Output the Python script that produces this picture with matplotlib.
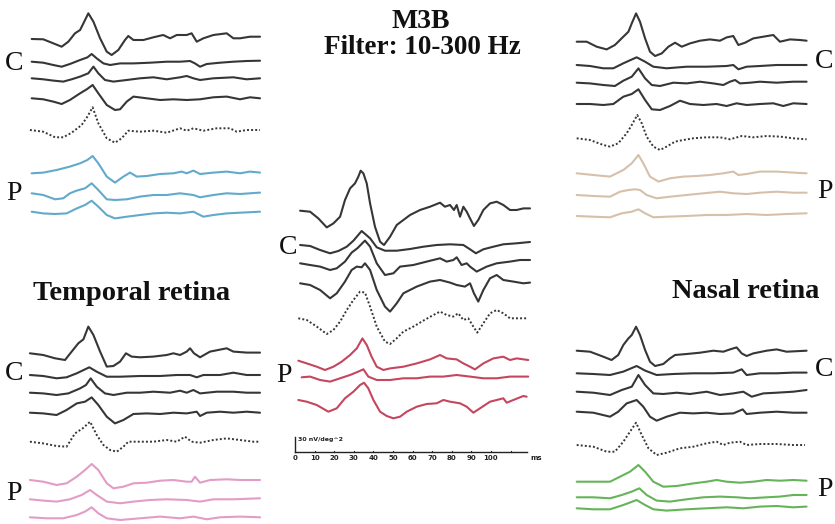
import matplotlib.pyplot as plt
import numpy as np

# waveforms: (time [ms], amplitude) pairs
# amplitude unit: 1 = 2 nV/deg^2 (scale bar 30 nV/deg^2 = 15 units)

top_left = [
    [(2.9, 0), (8.8, -0.3), (13.9, -4.3), (18.2, -7.7), (21.6, -2.7), (25, 5.7), (27.6, 9), (29.3, 15.7),
     (31.8, 25.7), (34.4, 17.3), (37.8, 0.7), (41.2, -12.7), (43.7, -16), (47.1, -11), (50.5, -1), (52.2, 3),
     (54.8, -1), (59.9, -1), (65, 1.7), (70, 4), (73.5, 0.7), (76.9, 4), (82, 4), (84.5, 5.7), (87.1, -2.7),
     (90.5, 0.7), (95.6, 4), (102.4, 5.7), (105.8, 0.7), (109.2, 0.7), (114.3, 2.3), (119.4, 2.3)],
    [(2.9, 0), (8.8, -1), (13.9, -3.3), (18.2, -5), (22.4, -2.3), (27.6, 1.7), (31.3, 4.3), (33.5, 7.7),
     (36.1, 3.3), (39.5, -1.7), (42.9, -3.3), (48, -1.7), (54.8, -1.7), (63.3, -1), (71.8, 0), (78.6, 0),
     (83.7, 0.7), (86.2, -1.7), (88.8, -5), (92.2, -2.3), (99, -1), (105.8, 0), (112.6, 0.7), (119.4, 1)],
    [(2.9, 0), (8.8, -1), (13.9, -2.3), (19, -3.3), (23.3, -1), (27.6, 1.7), (31.8, 5), (34.4, 11.7),
     (36.9, 5), (40.3, -1.7), (44.6, -3.3), (51.4, -1.7), (58.2, 0), (65, 1), (71.8, -1), (78.6, 1),
     (82, 2.3), (85.4, 0), (88.8, -1.7), (95.6, 0), (105.8, 1), (112.6, -1), (119.4, 0)],
    [(2.9, 0), (8.8, -1), (13.9, -3.3), (18.2, -5.7), (22.4, -1.7), (27.6, 5), (31, 9), (34, 13.3),
     (36.9, 5), (41.2, -6.7), (45.4, -11.7), (48, -11), (51.4, -3.3), (54.8, 1.7), (61.6, 0), (68.4, -1.7),
     (75.2, -1), (82, -1.7), (88.8, -1), (95.6, 1), (102.4, 1.7), (109.2, -1), (114.3, 1), (119.4, 0)],
    [(2, 0), (8.8, -1.7), (14.8, -7.3), (19, -7.3), (23.3, -2.7), (28.4, 5), (31.3, 13.3), (34, 22.7),
     (36.9, 6.7), (41.2, -8.3), (45.4, -12.7), (48.8, -8.3), (52.2, -0.7), (58.2, -1.7), (65, -0.7),
     (71.8, -2.7), (78.6, 1.7), (82, -0.7), (85.4, 1.7), (90.5, -0.7), (97.3, 1.7), (104.1, 1.7),
     (107.5, -1.7), (112.6, 0), (119.4, 0)],
    [(2.9, 0), (8.8, 0.7), (15.6, 3.3), (22.4, 6.7), (27.6, 10), (31.3, 13.3), (34, 17.3), (36.9, 10),
     (41.2, -3.3), (45.4, -9.3), (49.7, -3.3), (53.1, 0.7), (56.5, -3.3), (61.6, -2.7), (68.4, -0.7),
     (75.2, 0), (79.4, 1.7), (82, 0), (85.4, 2.7), (88.8, -0.7), (95.6, 0.7), (102.4, 1.7), (109.2, 0),
     (114.3, 1.7), (119.4, 0.7)],
    [(2.9, 0), (8.8, -1.7), (14.8, -6), (19, -5), (22.4, 0), (25.9, 2.7), (30.1, 5), (33.5, 10),
     (36.9, 3.3), (41.2, -6), (45.4, -6.7), (51.4, -6), (58.2, -3.3), (65, -1.7), (71.8, -1.7), (78.6, 0),
     (85.4, -1.7), (88.8, -4), (95.6, -1.7), (102.4, 0), (109.2, -0.7), (119.4, 0.7)],
    [(2.9, 0), (8.8, -1.7), (14.8, -2.3), (20.7, -1.7), (25.9, 3.3), (30.1, 6.7), (33.5, 11), (36.9, 5),
     (41.2, -3.3), (45.4, -6.7), (51.4, -5), (58.2, -3.3), (65, -1.7), (71.8, -1), (78.6, -1.7),
     (85.4, 0), (90.5, -5), (95.6, -3.3), (102.4, -1.7), (109.2, -1), (119.4, 0)],
]

top_right = [
    [(2.9, 0), (8, 0), (13.1, -5), (18.2, -7.7), (22.4, -3.3), (26.7, 5), (29.3, 10), (31, 18.3),
     (33.2, 28.3), (35.2, 20), (37.8, 3.3), (40.3, -10), (42.9, -14.3), (46.3, -11.7), (49.7, -5),
     (53.1, -1), (56.5, -5), (60.7, -1.7), (65.8, 1), (70.9, 2.3), (76, 1), (79.4, 4.3), (82.8, 5.7),
     (85.4, -3.3), (88.8, -1), (93, 3.3), (98.1, 5), (103.2, 6.7), (106.6, 0), (111.7, 2.3),
     (116.8, 1.7), (120.2, 1)],
    [(2.9, 0), (9.7, -1), (16.5, -3.3), (21.6, -3.3), (26.7, 1.7), (33.5, 7.7), (37.8, 3.3), (42, -1.7),
     (48.8, -3.3), (59, -1.7), (69.2, -1.7), (79.4, -1), (82.8, 0), (85.4, -4.3), (89.6, -1.7),
     (96.4, -1), (104.9, 0), (113.4, 0), (120.2, 0)],
    [(2.9, 0), (9.7, -0.7), (16.5, -2.3), (22.4, -3.3), (26.7, 2), (31, 6), (34.4, 14.3), (37.8, 4.3),
     (41.2, -2.3), (45.4, -3.3), (52.2, 0), (59, -0.7), (65.8, 1), (72.6, -0.7), (77.7, -2.3), (81.1, 1),
     (83.7, 2.7), (86.2, -0.7), (91.3, 0), (96.4, 1), (104.9, 0), (113.4, 1), (120.2, 1)],
    [(2.9, 0), (9.7, 0), (16.5, -1), (21.6, 0), (26.7, 7.3), (31, 10), (34.4, 14.7), (37.8, 4),
     (41.2, -5.3), (45.4, -6), (50.5, -2), (55.6, 3.3), (60.7, 0), (67.5, -1), (74.3, 0), (79.4, -2),
     (84.5, 0.7), (89.6, -1), (96.4, 0), (103.2, 0.7), (108.3, -2), (113.4, 0.7), (120.2, 0)],
    [(2.9, 0), (9.7, -1.7), (16.5, -6.7), (19.9, -8.3), (24.1, -5), (28.4, 5), (31, 13.3), (33.8, 23.3),
     (36.1, 15), (38.6, 1.7), (42, -8.3), (45.4, -11.7), (48.8, -8.3), (53.1, -3.3), (57.3, -1.7),
     (62.4, 0), (69.2, 1), (76, 1), (81.1, -1), (87.1, 2.3), (93, 1), (99.8, 2.3), (106.6, 1.7),
     (113.4, 0), (120.2, -1)],
    [(2.9, 0), (11.4, -1.7), (19.9, -3.3), (26.7, 3.3), (31, 10), (34.4, 18.3), (36.9, 10), (40.3, -3.3),
     (44.6, -8.3), (50.5, -5), (57.3, -3.3), (64.1, -2.7), (70.9, -1.7), (77.7, 0), (82.8, 1.7),
     (85.4, -1.7), (89.6, -0.7), (96.4, 1.7), (104.9, 1.7), (113.4, 0.7), (120.2, 0)],
    [(2.9, 0), (11.4, -1), (19.9, -1.7), (25, 3.3), (29.3, 5), (32.7, 5.7), (35.2, 5), (38.6, 0),
     (43.7, -3.3), (50.5, -1.7), (59, 0), (67.5, 1.7), (76, 3.3), (82.8, 1.7), (89.6, 1), (96.4, 2.3),
     (104.9, 3.3), (113.4, 2.3), (120.2, 2.3)],
    [(2.9, 0), (11.4, -0.7), (19.9, -1.3), (25.9, 2.7), (31, 4.3), (34.4, 6.7), (37.8, 2.7), (42, -1.3),
     (48.8, -0.7), (59, 0), (69.2, 1), (79.4, 1), (89.6, 2), (99.8, 1), (110, 2), (120.2, 2.7)],
]

middle = [
    [(2.6, 0), (7.7, -1), (11.9, -7.7), (16.2, -16.7), (19.6, -12.7), (23, -6), (25.5, 10.7), (28.1, 22.3),
     (30.6, 27.3), (32.3, 34), (33.5, 40), (34.9, 37.3), (36.6, 27.3), (38.3, 7.3), (40.8, -16),
     (43.4, -31), (45.4, -34.3), (48.5, -26), (51.9, -14.3), (55.3, -9.3), (58.7, -4.3), (63.8, 0.7),
     (68.9, 4), (74, 8), (76.5, 4), (79.1, 5.7), (81.1, 0.7), (82.5, 5.7), (84.2, -6), (85.9, 4),
     (87.6, -1), (89.3, -7.7), (91.3, -15.3), (93.5, -9.3), (96.1, 0.7), (99.5, 7.3), (102.9, 9),
     (106.3, 5.7), (109.7, 0.7), (113.1, 0.7), (116.5, 2.3), (119.9, 2.3)],
    [(2.6, 0), (7.7, -1), (12.8, -5), (17.9, -8.3), (22.1, -6), (26.4, -1.7), (29.8, 4.3), (34, 14),
     (38.3, 6.7), (41.7, -2.3), (45.9, -5.7), (51.9, -5.7), (58.7, -4), (65.5, -1.7), (72.3, 0),
     (79.1, 0.7), (85.9, 0), (89.3, -4.3), (92.3, -8.3), (96.1, -4.3), (101.2, -1.7), (106.3, 0.7),
     (113.1, 1.7), (119.9, 3)],
    [(2.6, 0), (7.7, -1.7), (12.8, -3.3), (17.9, -6.7), (21.3, -5), (25.5, 1.7), (28.9, 10.7), (31.8, 15),
     (35.7, 22.7), (38.3, 16.7), (41.7, 0), (45.9, -11.7), (50.2, -10), (53.6, -3.3), (60.4, -1.7),
     (67.2, 1.7), (74, 5), (77.4, 1.7), (80.8, 3.3), (82.5, 6), (85, -1.7), (87.6, 0), (89.3, -3.3),
     (92.7, -8.3), (97.8, -3.3), (102.9, 0), (109.7, 1.7), (114.8, 3.3), (119.9, 3.3)],
    [(2.6, 0), (7.7, -1.7), (12.8, -6.7), (17.9, -15), (21.3, -10), (25.5, 1.7), (28.9, 13.3), (31.5, 16.7),
     (34, 16), (35.7, 20), (38.3, 13.3), (41.7, -6.7), (45.9, -23.3), (48.5, -28.3), (51.9, -20),
     (55.3, -10), (62.1, -3.3), (68.9, 1.7), (74, 3.3), (79.1, 0.7), (82.5, -1.7), (86.7, -3.3),
     (89.3, 0), (91.3, -10), (93.5, -18.3), (96.1, -6.7), (99.5, 5), (102.9, 8.3), (106.3, 3.3),
     (111.4, 1.7), (116.5, 0), (119.9, 0.7)],
    [(1.7, 0), (6, -1.7), (11.1, -8.3), (16.2, -15.7), (19.6, -11.7), (23, -3.3), (26.4, 8.3), (29.8, 18.3),
     (33.2, 26.7), (35.7, 25.7), (38.3, 11.7), (41.7, -8.3), (45.9, -23.3), (48.5, -25.7), (51.9, -20),
     (55.3, -13.3), (60.4, -8.3), (65.5, -2.3), (70.6, 3.3), (74, 6.7), (77.4, 3.3), (80.8, 1.7),
     (83.3, 5), (85.9, -1.7), (88.4, 0), (91, -8.3), (93, -14.3), (96.1, -5), (99.5, 5), (102.9, 8.3),
     (106.3, 5), (109.7, 0), (113.1, 0), (118.2, 0)],
    [(1.7, 0), (6, -2.7), (11.1, -6), (15.3, -9.3), (19.6, -6), (23.8, -1), (28.1, 5.7), (31.5, 12.3),
     (34.4, 22.3), (36.6, 15.7), (39.1, 4), (41.7, -6), (45.1, -9.3), (48.5, -7.7), (55.3, -6),
     (62.1, -2.7), (68.9, 1.3), (74, 5.7), (77.4, 2.3), (82.5, 1.3), (85.9, -2.7), (89.3, -6),
     (91.8, -8.7), (96.1, -2.7), (101.2, 2.3), (106.3, 4), (109.7, 0.7), (113.1, 2.3), (119, 0.7)],
    [(3.4, 0), (7.7, 0.7), (12.8, -2.7), (17.9, -4.3), (23, -1), (28.1, 2.3), (32.3, 5.7), (34.9, 8),
     (37.4, 0.7), (41.7, -2.7), (48.5, -2.7), (55.3, -1), (62.1, -1), (68.9, 0.7), (75.7, 0.7),
     (82.5, 2.3), (89.3, 0.7), (96.1, -1), (102.9, -1), (109.7, 0.7), (119, 0.7)],
    [(1.7, 0), (6, -1.7), (11.1, -5), (17, -11.7), (21.3, -8.3), (25.5, 1.7), (29.8, 8.3), (33.2, 15),
     (35.2, 17.3), (37.4, 11.7), (40, 0), (43.4, -11.7), (46.8, -16), (50.2, -18.3), (53.6, -16.7),
     (57, -11.7), (62.1, -6.7), (67.2, -4), (72.3, -3.3), (75.7, 0), (79.1, -1.7), (84.2, -3.3),
     (87.6, -6.7), (91, -12.7), (94.4, -8.3), (99.5, -1.7), (102.9, 0), (106.3, 1.7), (108, -2.7),
     (111.4, 0), (116.5, 4), (118.2, 3.3)],
]

bottom_left = [
    [(2, 0), (8.8, -1.7), (14.8, -5), (19.9, -6.7), (23.3, 1.7), (26.7, 10), (29.3, 14), (31.8, 26.7),
     (34.4, 18.3), (37.8, 1.7), (41.2, -13.3), (44.6, -12.7), (48, -8.3), (51, 0), (53.9, -3.3),
     (58.2, -4), (65, -3.3), (71.8, -1.7), (75.2, 0), (78.6, -1.7), (82, 1.7), (83.7, 5), (85.7, 0),
     (88.8, -4), (93.9, 1.7), (102.4, 5), (105.8, 1.7), (112.6, 0.7), (119.4, 0.7)],
    [(2, 0), (8.8, -1), (15.6, -3.3), (20.7, -2.3), (25.9, 1.7), (32.3, 7.7), (36.1, 3.3), (41.2, -1.7),
     (48, -1.7), (58.2, -1), (68.4, -1), (76.9, 0), (83.7, 0), (87.1, -2.3), (90.5, 0), (99, 0),
     (105.8, 2.3), (112.6, 0), (119.4, 0)],
    [(2, 0), (8.8, -0.7), (15.6, -2.3), (21.6, -0.7), (27.6, 4.3), (30.6, 7.7), (33, 14.3), (36.1, 6),
     (40.3, -0.7), (44.6, -2.3), (51.4, 0), (58.2, 0), (65, 1), (73.5, 0), (78.6, 2), (82, 0), (85.4, 2.7),
     (88.8, -0.7), (97.3, 1), (105.8, 1), (112.6, 0), (119.4, 0)],
    [(2, 0), (8.8, -0.7), (15.6, -2.3), (20.7, 2.7), (25.9, 9.3), (30.1, 11), (33.5, 15.3), (36.9, 7.7),
     (41.2, -4), (45.4, -10.7), (49.7, -7.3), (54.8, -1.3), (61.6, -0.7), (68.4, -1.3), (75.2, 0),
     (82, -0.7), (87.1, 1), (88.8, -3.3), (92.2, 0), (99, 1), (105.8, 0), (112.6, 1), (119.4, 0)],
    [(2, 0), (8.8, -1.7), (15.6, -4.3), (20.7, -5), (25, 8.3), (28.9, 13.3), (32.7, 20), (36.1, 6.7),
     (39.5, -3.3), (42.9, -8.3), (46.3, -10), (49.7, -5), (52.2, 0), (58.2, 0), (65, 0), (71.8, 1.7),
     (76.9, 0), (81.1, 5), (84.5, 0), (88.8, -1), (95.6, 1.7), (102.4, 3.3), (109.2, 1.7), (116, 0),
     (119.4, 0)],
    [(2, 0), (8.8, -1.7), (15.6, -5), (20.7, -3.3), (25.9, 3.3), (30.1, 10), (33.5, 16), (36.9, 10),
     (41.2, -3.3), (44.6, -8.3), (49.7, -6.7), (54.8, -3.3), (61.6, -2.7), (68.4, -0.7), (75.2, 0),
     (82, -1.7), (84.5, -1.7), (86.2, 3.3), (88.8, -2.7), (93.9, 0), (102.4, 0.7), (109.2, 0), (119.4, 0)],
    [(2, 0), (8.8, -1.3), (15.6, -2.3), (22.4, 0), (28.4, 4.3), (32.7, 9.3), (36.1, 4.3), (41.2, -2.3),
     (48, -4), (54.8, -2.3), (63.3, -0.7), (71.8, 0), (82, -0.7), (88.8, -2.3), (95.6, 0), (105.8, 0),
     (119.4, 1)],
    [(2, 0), (10.5, -1), (19, -1), (25.9, 2.3), (30.1, 5.7), (33.5, 10), (36.9, 4), (41.2, -1), (48, -2.7),
     (58.2, -1), (68.4, 0.7), (78.6, -1), (85.4, 0.7), (92.2, -2), (99, 0), (109.2, 0.7), (119.4, 0)],
]

bottom_right = [
    [(2.9, 0), (9.7, -1), (16.5, -6), (20.7, -9.3), (24.1, -4.3), (26.7, 5.7), (29.3, 12.3), (31, 15.7),
     (33.2, 24), (35.2, 15.7), (37.8, 0.7), (40.3, -11), (42.9, -15.3), (47.1, -13.3), (50.5, -7.7),
     (53.1, -4.3), (59, -3.3), (65.8, -2), (72.6, 0), (77.7, -1), (81.1, 1.3), (84.5, 3.3), (87.1, -2.7),
     (89.6, -5.3), (93, -2.7), (99.8, 0), (104.9, 1.3), (110, -1), (120.2, 0)],
    [(2.9, 0), (11.4, -0.7), (19.9, -1.7), (26.7, 1.7), (33.5, 7.3), (37.8, 2.7), (43.7, -1.7),
     (52.2, -0.7), (62.4, 0), (72.6, 0), (82.8, 0.7), (87.1, 4), (89.6, -1.7), (96.4, 0), (104.9, 0),
     (113.4, 0.7), (120.2, 0.7)],
    [(2.9, 0), (11.4, -1), (19.9, -3.3), (25.9, 1.7), (31, 5), (34.4, 16.7), (37.8, 6.7), (42, -1.7),
     (47.1, -2.3), (53.9, -1), (60.7, -2.3), (69.2, 0), (76, -3.3), (82.8, -1.7), (87.9, 0), (92.2, -5),
     (98.1, -1.7), (104.9, -1), (113.4, 0), (120.2, 1.7)],
    [(2.9, 0), (11.4, -1), (19.9, -5), (24.1, 0), (28.4, 8.3), (33.5, 11.7), (36.9, 5), (40.3, -5),
     (43.7, -9), (48.8, -5), (55.6, -1), (62.4, -1.7), (69.2, -1), (76, -2.3), (82.8, -1.7), (87.6, 2.3),
     (89.6, -2.3), (96.4, -1), (104.9, 0), (113.4, -1), (120.2, -1)],
    [(2.9, 0), (11.4, -1.7), (18.2, -6.7), (22.4, -6.7), (26.7, 3.3), (30.1, 13.3), (33.2, 22.3),
     (36.1, 10), (39.5, -3.3), (43.7, -10), (48.8, -7.7), (55.6, -3.3), (62.4, -1.7), (69.2, 1.7),
     (74.3, 3.3), (77.7, 0), (81.1, 2.3), (86.2, 3.3), (89.6, 0), (96.4, 1), (104.9, 1), (113.4, 0),
     (119.4, 0)],
    [(2.9, 0), (11.4, 0), (19.9, 0), (25, 5), (30.1, 10), (34.4, 16.7), (37.8, 10), (42, 0), (47.1, -5),
     (53.9, -4.3), (62.4, -1.7), (69.2, 0), (74.3, 1.7), (79.4, 0), (86.2, -1), (93, 0), (99.8, 1.7),
     (106.6, 1), (113.4, 1.7), (120.2, 1)],
    [(2.9, 0), (11.4, 0), (19.9, -1), (25.9, 2.3), (31, 5.7), (34.9, 9), (38.6, 2.3), (43.7, -3.3),
     (50.5, -4.3), (59, -2), (67.5, 0), (76, 0.7), (84.5, 0), (91.3, -1), (99.8, 0), (106.6, 0.7),
     (113.4, 2.3), (120.2, 2.3)],
    [(2.9, 0), (11.4, -1), (19.9, -1), (26.7, 3.3), (33.5, 8.3), (37.8, 3.3), (42, -1), (48.8, -2.3),
     (59, -1), (69.2, 0), (79.4, 1), (87.9, 0), (96.4, 1.7), (104.9, 2.3), (113.4, 1), (120.2, 1.7)],
]

scale_ticks = [0, 10, 20, 30, 40, 50, 60, 70, 80, 90, 100, 110]
scale_labels = ['0', '10', '20', '30', '40', '50', '60', '70', '80', '90', '100', '']
scale_bar = 15          # 30 nV/deg^2
scale_text = '30 nV/deg^2'

# ---- layout (pixels) ----
W, H = 835, 524
PX_MS = 1.96
DARK = '#363636'
serif = ['Liberation Serif', 'DejaVu Serif']

fig = plt.figure(figsize=(W / 100, H / 100), dpi=100)


def panel(x0, traces, rows, colors):
    ax = fig.add_axes([0, 0, 1, 1])
    ax.set_xlim(-x0 / PX_MS, (W - x0) / PX_MS)
    ax.set_ylim(-H, 0)
    ax.axis('off')
    ax.patch.set_alpha(0)
    for tr, y0, col in zip(traces, rows, colors):
        t, a = np.array(tr).T
        if col == 'dot':
            ax.plot(t, a - y0, color=DARK, lw=1.4, ls=(0, (1, 1.1)))
        else:
            ax.plot(t, a - y0, color=col, lw=1.5, solid_joinstyle='round', solid_capstyle='round')
    return ax


panel(26, top_left, [39, 61.7, 78.3, 98.3, 130, 173.3, 193.3, 211.7],
      [DARK] * 4 + ['dot'] + ['#62aacb'] * 3)
panel(571, top_right, [41.7, 65, 82.7, 104, 138.3, 173.3, 195, 216],
      [DARK] * 4 + ['dot'] + ['#d6c0aa'] * 3)
axm = panel(295, middle, [210.7, 245, 263.3, 283.3, 318.3, 360.7, 377.3, 400],
            [DARK] * 4 + ['dot'] + ['#c4465f'] * 3)
panel(26, bottom_left, [353.3, 375, 392.7, 412.7, 441.7, 480, 499.3, 517.3],
      [DARK] * 4 + ['dot'] + ['#e29cc6'] * 3)
panel(571, bottom_right, [350.7, 373.3, 391.7, 411.7, 445, 481.7, 497.3, 508.3],
      [DARK] * 4 + ['dot'] + ['#66b45a'] * 3)

# scale bar and time axis in the middle panel
y_ax = -452
axm.plot([0, 0], [y_ax, y_ax + scale_bar], color='#222222', lw=1.0)
axm.plot([0, 118.5], [y_ax, y_ax], color='#222222', lw=1.0)
for tk, lab in zip(scale_ticks, scale_labels):
    axm.plot([tk, tk], [y_ax, y_ax + 1.5], color='#222222', lw=0.8)
    axm.text(tk, y_ax - 6, lab, fontsize=5, fontweight='bold', ha='center', va='center', color='#222222')
axm.text(120, y_ax - 6, 'ms', fontsize=5, fontweight='bold', ha='left', va='center', color='#222222')
axm.text(1.5, y_ax + scale_bar - 3, scale_text, fontsize=4.5, fontweight='bold', ha='left', va='center',
         color='#222222')


def label(x, y, s, **kw):
    fig.text(x / W, 1 - y / H, s, family=serif, color='#111111', va='center', **kw)


label(421, 22, 'M3B', fontsize=20, fontweight='bold', ha='center')
label(422, 47, 'Filter: 10-300 Hz', fontsize=19.5, fontweight='bold', ha='center')
label(132, 293, 'Temporal retina', fontsize=20.5, fontweight='bold', ha='center')
label(746, 292, 'Nasal retina', fontsize=20.5, fontweight='bold', ha='center')

for x, y, s in [(5, 63, 'C'), (6, 194, 'P'), (5, 373, 'C'), (6, 493, 'P'),
                (279, 247, 'C'), (276, 375, 'P'),
                (815, 62, 'C'), (817, 191, 'P'), (815, 370, 'C'), (817, 490, 'P')]:
    label(x, y, s, fontsize=20, ha='left')

fig.savefig('out.png', dpi=100)
